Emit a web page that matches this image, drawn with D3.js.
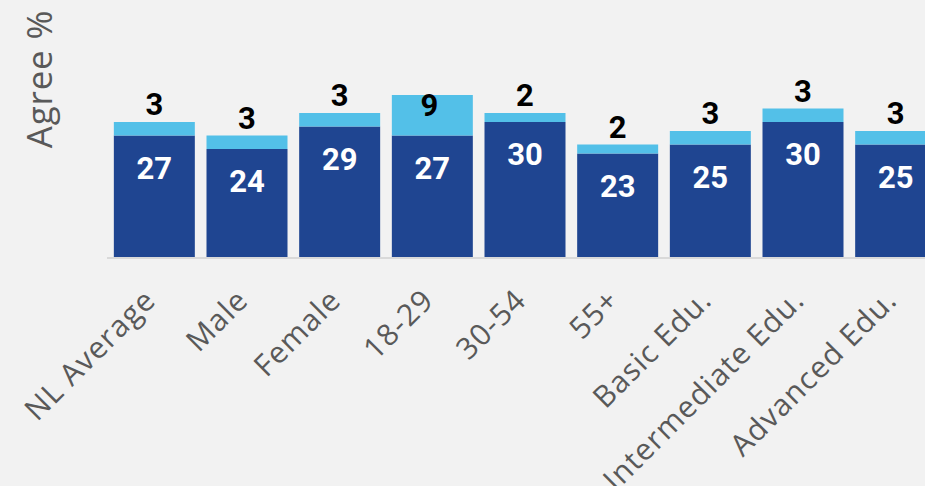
<!DOCTYPE html>
<html>
<head>
<meta charset="utf-8">
<script src="https://cdn.jsdelivr.net/npm/d3@7"></script>
<style>
  body { margin: 0; background: #f2f2f2; }
  svg { display: block; }
</style>
</head>
<body>
<div id="chart"></div>
<script>
// data
var categories = ["NL Average", "Male", "Female", "18-29", "30-54", "55+",
                  "Basic Edu.", "Intermediate Edu.", "Advanced Edu."];
var baseValues = [27, 24, 29, 27, 30, 23, 25, 30, 25];
var topValues = [3, 3, 3, 9, 2, 2, 3, 3, 3];

var width = 925, height = 486;

var svg = d3.select("#chart")
  .append("svg")
    .attr("width", width)
    .attr("height", height);

svg.append("rect")
    .attr("width", width)
    .attr("height", height)
    .style("fill", "#f2f2f2");

var x = d3.scaleBand()
    .domain(categories)
    .range([108, 942])
    .paddingInner(0.126)
    .paddingOuter(0.063);

var y = d3.scaleLinear()
    .domain([0, 40])
    .range([257, 77]);

var rows = categories.map(function(c, i) {
  return { cat: c, base: baseValues[i], top: topValues[i] };
});

// baseline
svg.append("line")
    .attr("x1", 107)
    .attr("x2", width)
    .attr("y1", y(0) + 1)
    .attr("y2", y(0) + 1)
    .attr("stroke", "#d9d9d9")
    .attr("stroke-width", 2);

var g = svg.append("g");

// dark part
g.selectAll(".base")
  .data(rows)
  .enter()
  .append("rect")
    .attr("class", "base")
    .attr("x", function(d) { return x(d.cat); })
    .attr("width", x.bandwidth())
    .attr("y", function(d) { return y(d.base); })
    .attr("height", function(d) { return y(0) - y(d.base); })
    .attr("fill", "#1f4591");

// light part on top
g.selectAll(".top")
  .data(rows)
  .enter()
  .append("rect")
    .attr("class", "top")
    .attr("x", function(d) { return x(d.cat); })
    .attr("width", x.bandwidth())
    .attr("y", function(d) { return y(d.base + d.top); })
    .attr("height", function(d) { return y(d.base) - y(d.base + d.top); })
    .attr("fill", "#53c0e8");

// white labels inside dark bars
g.selectAll(".baseLabel")
  .data(rows)
  .enter()
  .append("text")
    .attr("x", function(d) { return x(d.cat) + x.bandwidth() / 2; })
    .attr("y", function(d) { return y(d.base) + 43; })
    .attr("text-anchor", "middle")
    .style("font-family", "Roboto, 'Liberation Sans', sans-serif")
    .style("font-weight", "bold")
    .style("font-size", "31px")
    .style("fill", "#ffffff")
    .text(function(d) { return d.base; });

// black labels: above the bar, or inside when the light part is tall enough
g.selectAll(".topLabel")
  .data(rows)
  .enter()
  .append("text")
    .attr("x", function(d) { return x(d.cat) + x.bandwidth() / 2 - (d.top > 6 ? 3 : 0); })
    .attr("y", function(d) {
      var t = y(d.base + d.top);
      return (y(d.base) - t) > 30 ? t + 21 : t - 7;
    })
    .attr("text-anchor", "middle")
    .style("font-family", "Roboto, 'Liberation Sans', sans-serif")
    .style("font-weight", "bold")
    .style("font-size", "31px")
    .style("fill", "#000000")
    .text(function(d) { return d.top; });

// category labels, rotated
svg.selectAll(".catLabel")
  .data(categories)
  .enter()
  .append("text")
    .attr("transform", function(d) {
      return "translate(" + (x(d) + x.bandwidth() / 2 + 3) + ",302) rotate(-45)";
    })
    .attr("text-anchor", "end")
    .style("font-family", "'Open Sans', Lato, sans-serif")
    .style("font-size", "30px")
    .style("letter-spacing", "1.1px")
    .style("fill", "#595959")
    .text(function(d) { return d; });

// y axis title
svg.append("text")
    .attr("transform", "rotate(-90)")
    .attr("x", -79)
    .attr("y", 52)
    .attr("text-anchor", "middle")
    .style("font-family", "'Open Sans', Lato, sans-serif")
    .style("font-size", "35px")
    .style("letter-spacing", "0.8px")
    .style("fill", "#595959")
    .text("Agree %");
</script>
</body>
</html>
